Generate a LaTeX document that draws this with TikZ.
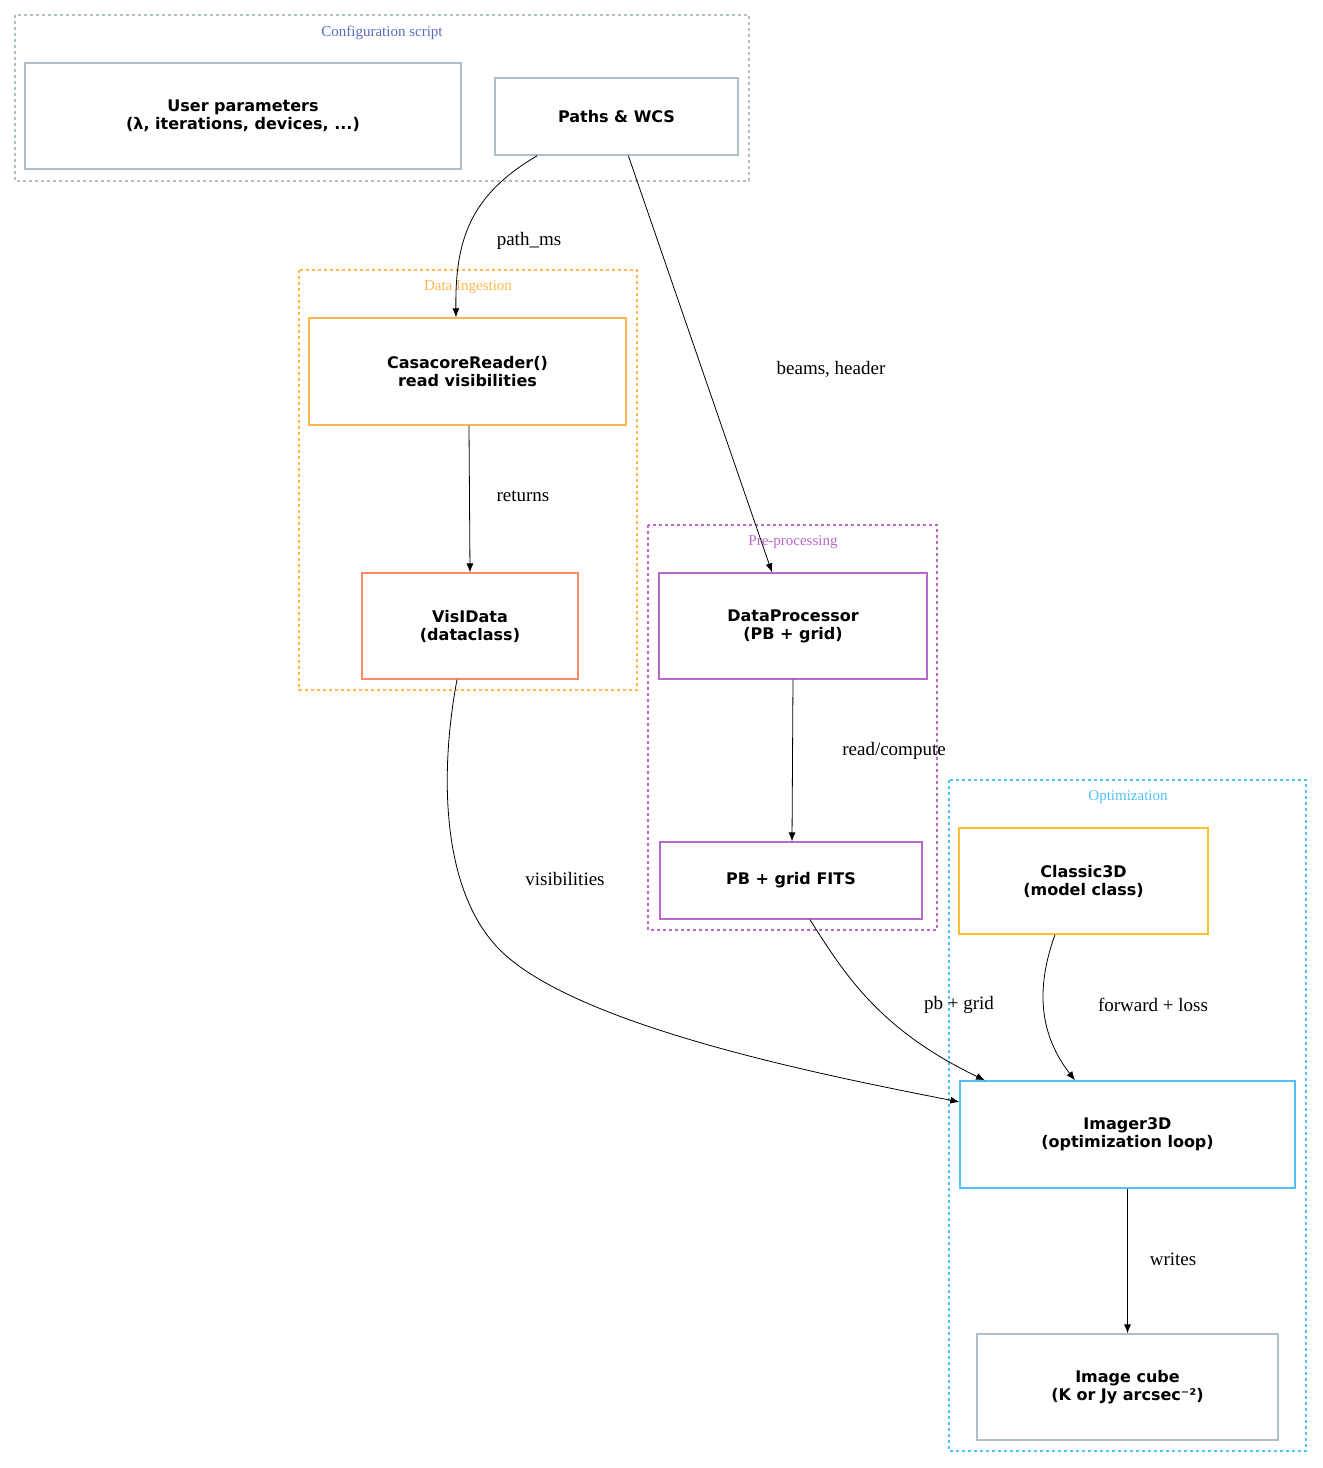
\documentclass[tikz,border=0pt]{standalone}
\usepackage{fontspec}
\setmainfont{Liberation Serif}
\newfontfamily\nodefont{DejaVu Sans}
\usetikzlibrary{arrows.meta}
\definecolor{cgray}{HTML}{B0BEC5}
\definecolor{cblue}{HTML}{5C6BC0}
\definecolor{corange}{HTML}{FFB74D}
\definecolor{csalmon}{HTML}{FF8A65}
\definecolor{cpurple}{HTML}{BA68C8}
\definecolor{csky}{HTML}{4FC3F7}
\definecolor{cyellow}{HTML}{FBC02D}
\begin{document}
\begin{tikzpicture}[x=1pt,y=-1pt,
  box/.style={draw,line width=1.3pt,font=\nodefont\bfseries\fontsize{16}{18}\selectfont,align=center,inner sep=0pt},
  clus/.style={draw,dashed,line width=1.3pt},
  clab/.style={font=\fontsize{15}{17}\selectfont},
  elab/.style={font=\fontsize{19}{21}\selectfont},
  edge/.style={line width=0.8pt,-{Latex[length=9pt,width=7pt]}}]
\useasboundingbox (0,0) rectangle (1323,1468);
% clusters
\draw[clus,cgray] (15,15) rectangle (749,181);
\node[clab,text=cblue] (lconf) at (382,33) {Configuration script};
\draw[clus,corange] (299,270) rectangle (637,690);
\node[clab,text=corange] (ldata) at (468,287) {Data Ingestion};
\draw[clus,cpurple] (648,525) rectangle (937,930);
\node[clab,text=cpurple] (lpre) at (793,542) {Pre-processing};
\draw[clus,csky] (949,780) rectangle (1306,1451);
\node[clab,text=csky] (lopt) at (1128,797) {Optimization};
% nodes
\node[box,cgray,text=black,minimum width=436pt,minimum height=106pt] (user) at (243,116) {User parameters\\(λ, iterations, devices, ...)};
\node[box,cgray,text=black,minimum width=243pt,minimum height=77pt] (paths) at (616.5,116.5) {Paths \& WCS};
\node[box,corange,text=black,minimum width=317pt,minimum height=107pt] (casa) at (467.5,371.5) {CasacoreReader()\\read visibilities};
\node[box,csalmon,text=black,minimum width=216pt,minimum height=106pt] (vis) at (470,626) {VisIData\\(dataclass)};
\node[box,cpurple,text=black,minimum width=268pt,minimum height=106pt] (dp) at (793,626) {DataProcessor\\(PB + grid)};
\node[box,cpurple,text=black,minimum width=262pt,minimum height=77pt] (pb) at (791,880.5) {PB + grid FITS};
\node[box,cyellow,text=black,minimum width=249pt,minimum height=106pt] (cl) at (1083.5,881) {Classic3D\\(model class)};
\node[box,csky,text=black,minimum width=335pt,minimum height=107pt] (im) at (1127.5,1134.5) {Imager3D\\(optimization loop)};
\node[box,cgray,text=black,minimum width=301pt,minimum height=106pt] (cube) at (1127.5,1387) {Image cube\\(K or Jy arcsec⁻²)};
% edges
\draw[edge] (paths.south west)++(43,0) .. controls (470,195) and (455,240) .. (casa.north west -| 456,0) ;
\draw[edge] (paths.south west)++(134,0) -- (dp.north west -| 772,0);
\draw[edge] (casa.south west -| 469,0) -- (vis.north west -| 470,0);
\draw[edge] (vis.south west -| 457,0) .. controls (440,770) and (440,890) .. (500,950) .. controls (580,1030) and (850,1080) .. (im.west |- 0,1102);
\draw[edge] (dp.south west -| 793,0) -- (pb.north west -| 792,0);
\draw[edge] (pb.south west -| 810,0) .. controls (845,975) and (880,1030) .. (im.north west -| 985,0);
\draw[edge] (cl.south west -| 1055,0) .. controls (1035,990) and (1040,1035) .. (im.north west -| 1075,0);
\draw[edge] (im.south) -- (cube.north);
% edge labels
\node[elab] (l1) at (529,241) {path\_ms};
\node[elab] (l2) at (831,369) {beams, header};
\node[elab] (l3) at (523,496) {returns};
\node[elab] (l4) at (565,879) {visibilities};
\node[elab] (l5) at (894,751) {read/compute};
\node[elab] (l6) at (959,1005) {pb + grid};
\node[elab] (l7) at (1153,1005) {forward + loss};
\node[elab] (l8) at (1173,1259) {writes};
\end{tikzpicture}
\end{document}
